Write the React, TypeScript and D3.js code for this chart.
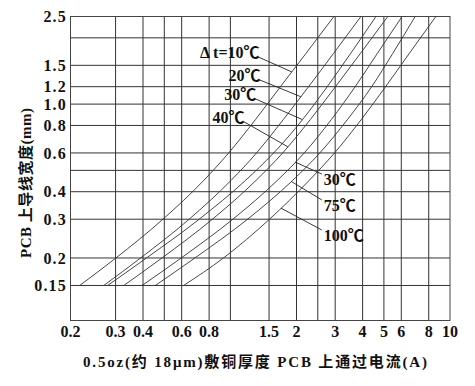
import React from 'react';
import * as d3 from 'd3';

// axis extents (the source prints "0.2" on the left frame, which sits a bit below 0.2)
const xMin = 0.187;
const xMax = 10;
const yMin = 0.104;
const yMax = 2.5;

const xGridValues = [0.3, 0.4, 0.5, 0.6, 0.8, 1, 1.5, 2, 2.5, 3, 4, 5, 6, 8];
const xTickValues = [0.2, 0.3, 0.4, 0.6, 0.8, 1.5, 2, 3, 4, 5, 6, 8, 10];
const xTickLabels = ['0.2', '0.3', '0.4', '0.6', '0.8', '1.5', '2', '3', '4', '5', '6', '8', '10'];

const yGridValues = [0.15, 0.2, 0.3, 0.4, 0.5, 0.6, 0.8, 1.0, 1.2, 1.5, 2.0];
const yTickValues = [0.15, 0.2, 0.3, 0.4, 0.6, 0.8, 1.0, 1.2, 1.5, 2.5];
const yTickLabels = ['0.15', '0.2', '0.3', '0.4', '0.6', '0.8', '1.0', '1.2', '1.5', '2.5'];

// trace width (mm) where each curve was read
const widths = [0.15, 0.2, 0.3, 0.45, 0.6, 0.85, 1.2, 1.7, 2.5];

// current (A) per temperature rise, one value per width above
const dt10 = [0.206, 0.301, 0.493, 0.756, 0.982, 1.30, 1.69, 2.21, 2.96];
const dt20 = [0.265, 0.390, 0.649, 1.006, 1.315, 1.74, 2.27, 2.95, 3.93];
const dt30 = [0.276, 0.415, 0.721, 1.171, 1.574, 2.13, 2.76, 3.53, 4.60];
const dt40 = [0.327, 0.488, 0.828, 1.308, 1.730, 2.31, 3.01, 3.91, 5.21];
const dt60 = [0.396, 0.597, 1.026, 1.635, 2.168, 2.88, 3.70, 4.67, 6.05];
const dt75 = [0.455, 0.689, 1.197, 1.920, 2.553, 3.41, 4.40, 5.49, 6.94];
const dt100 = [0.612, 0.930, 1.507, 2.283, 2.980, 3.94, 5.09, 6.53, 8.62];
const seriesCurrents = [dt10, dt20, dt30, dt40, dt60, dt75, dt100];

// callouts: text, width where the leader meets its curve, leader start (A, mm)
const labelTexts = ['Δ t=10℃', '20℃', '30℃', '40℃', '30℃', '75℃', '100℃'];
const leaderAtWidth = [1.40, 1.08, 0.85, 0.64, 0.545, 0.445, 0.337];
const labelAnchorCurrent = [1.343, 1.357, 1.298, 1.148, 2.609, 2.609, 2.609];
const labelAnchorWidth = [1.635, 1.289, 1.057, 0.833, 0.481, 0.367, 0.268];

const FONT = "'Liberation Serif', 'Noto Sans CJK SC', serif";
const CJK = "'Liberation Serif', 'Noto Sans CJK SC', sans-serif";

const W = 475;
const H = 386;

const x = d3.scaleLog().domain([xMin, xMax]).range([70.5, 450]);
const y = d3.scaleLog().domain([yMin, yMax]).range([320.5, 16.5]);

// current on a curve at a given width (log interpolation)
const currentAt = (cur: number[], w: number) => {
  for (let i = 0; i < widths.length - 1; i++) {
    if (w >= widths[i] && w <= widths[i + 1]) {
      const t = Math.log(w / widths[i]) / Math.log(widths[i + 1] / widths[i]);
      return Math.exp(Math.log(cur[i]) + t * (Math.log(cur[i + 1]) - Math.log(cur[i])));
    }
  }
  return cur[cur.length - 1];
};

const App: React.FC = () => {
  const line = d3.line<[number, number]>()
    .x(d => x(d[0]))
    .y(d => y(d[1]))
    .curve(d3.curveMonotoneX);

  const [x0, x1] = x.range();
  const [y0, y1] = y.range();

  return (
    <svg width={W} height={H} style={{ position: 'absolute', left: 0, top: 0, background: '#fff' }}>
      {/* grid */}
      <g stroke="#333" strokeWidth={1}>
        {xGridValues.map(v => (
          <line key={'gx' + v} x1={x(v)} x2={x(v)} y1={y0} y2={y1} />
        ))}
        {yGridValues.map(v => (
          <line key={'gy' + v} x1={x0} x2={x1} y1={y(v)} y2={y(v)} />
        ))}
      </g>
      <rect x={x0} y={y1} width={x1 - x0} height={y0 - y1} fill="none" stroke="#444" strokeWidth={1} />

      {/* curves */}
      <g fill="none" stroke="#333" strokeWidth={0.9}>
        {seriesCurrents.map((cur, i) => (
          <path key={'c' + i} d={line(cur.map((c, j) => [c, widths[j]] as [number, number])) || ''} />
        ))}
      </g>

      {/* callouts */}
      <g stroke="#222" strokeWidth={0.9}>
        {labelTexts.map((t, i) => {
          const cx = x(currentAt(seriesCurrents[i], leaderAtWidth[i]));
          const cy = y(leaderAtWidth[i]);
          return (
            <line key={'l' + i} x1={x(labelAnchorCurrent[i])} y1={y(labelAnchorWidth[i])} x2={cx} y2={cy} />
          );
        })}
      </g>
      <g fontFamily={FONT} fontSize={16} fontWeight="bold" fill="#111">
        {labelTexts.map((t, i) => {
          const upper = i < 4;
          const ax = x(labelAnchorCurrent[i]);
          const ay = y(labelAnchorWidth[i]);
          return (
            <text key={'t' + i} x={upper ? ax + 1 : ax + 2}
              y={upper ? ay + 1 : ay + 11}
              textAnchor={upper ? 'end' : 'start'}>
              {t}
            </text>
          );
        })}
      </g>

      {/* y tick labels */}
      <g fontFamily={FONT} fontSize={16} fontWeight="bold" fill="#111" letterSpacing={1.2}>
        {yTickValues.map((v, i) => (
          <text key={'yt' + v} x={67} y={y(v)} dy="0.35em" textAnchor="end">{yTickLabels[i]}</text>
        ))}
      </g>

      {/* x tick labels */}
      <g fontFamily={FONT} fontSize={16} fontWeight="bold" fill="#111">
        {xTickValues.map((v, i) => (
          <text key={'xt' + v} x={v < xGridValues[0] ? x0 : x(v)} y={337} textAnchor="middle">
            {xTickLabels[i]}
          </text>
        ))}
      </g>

      {/* axis titles */}
      <text x={255} y={367} textAnchor="middle" fontFamily={CJK} fontSize={15} fontWeight="bold" fill="#111"
        textLength={344} lengthAdjust="spacing">
        0.5oz(约 18μm)敷铜厚度 PCB 上通过电流(A)
      </text>
      <text transform="translate(26,183) rotate(-90)" textAnchor="middle" dominantBaseline="central"
        fontFamily={CJK} fontSize={15} fontWeight="bold" fill="#111" textLength={150} lengthAdjust="spacing">
        PCB 上导线宽度(mm)
      </text>
    </svg>
  );
};

export default App;
